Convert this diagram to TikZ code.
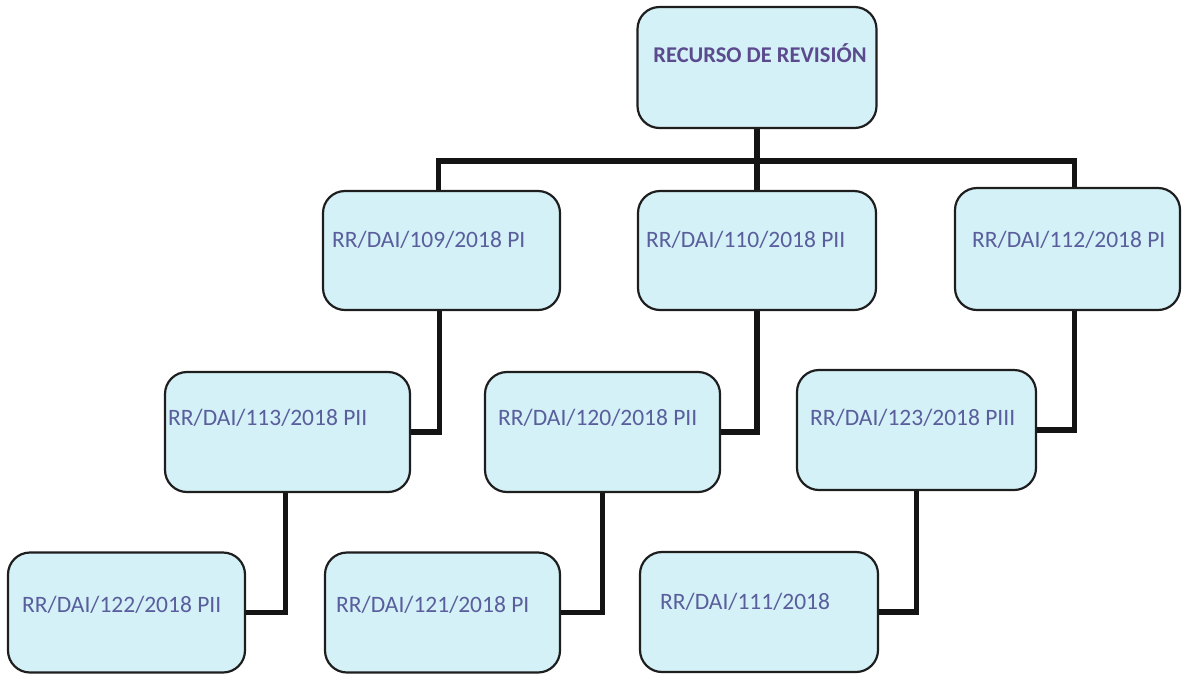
\documentclass[tikz,border=0pt]{standalone}
\usepackage{fontspec}
\setmainfont{Carlito}
\usetikzlibrary{backgrounds}
\definecolor{boxfill}{HTML}{D3F1F6}
\definecolor{boxline}{HTML}{1E1E1E}
\definecolor{txt}{HTML}{5A5E9C}
\definecolor{ttl}{HTML}{5C4A8E}
\begin{document}
\begin{tikzpicture}[x=1pt,y=-1pt,
  box/.style={draw=boxline,line width=2.2pt,fill=boxfill,rounded corners=22pt,inner sep=0pt,minimum width=#1},
  box/.default=237pt,
  lbl/.style={anchor=base west,inner sep=0pt,text=txt,font=\fontsize{23.5}{26}\selectfont},
  conn/.style={line width=5.6pt,draw=black!92}]
\useasboundingbox (0,0) rectangle (1188,673);
\coordinate (j) at (757,161);
% boxes
\node[box=239pt,minimum height=121pt] (top) at (757,67.5) {};
\node[box,minimum height=119pt] (b109) at (441.5,250.5) {};
\node[box=238pt,minimum height=119pt] (b110) at (757,250.5) {};
\node[box=225pt,minimum height=122pt] (b112) at (1067.5,249) {};
\node[box=245pt,minimum height=120pt] (b113) at (287.5,432) {};
\node[box=235pt,minimum height=120pt] (b120) at (602.5,432) {};
\node[box=239pt,minimum height=120pt] (b123) at (916.5,430) {};
\node[box,minimum height=120pt] (b122) at (126.5,612.5) {};
\node[box=235pt,minimum height=120pt] (b121) at (442.5,612.5) {};
\node[box=238pt,minimum height=120pt] (b111) at (759,612) {};
% connectors
\begin{scope}[on background layer]
\draw[conn] (top.south) -- (j);
\draw[conn] ([xshift=-3pt]b109.north) -- ([xshift=-3pt]b109.north |- j) -- ([xshift=7pt]b112.north |- j) -- ([xshift=7pt]b112.north);
\draw[conn] (j) -- (b110.north);
\draw[conn] ([xshift=-2pt]b109.south) |- (b113.east);
\draw[conn] (b110.south) |- (b120.east);
\draw[conn] ([xshift=7pt]b112.south) |- (b123.east);
\draw[conn] ([xshift=-2pt]b113.south) |- (b122.east);
\draw[conn] (b120.south) |- (b121.east);
\draw[conn] (b123.south) |- (b111.east);
\end{scope}
% labels
\node[anchor=base,inner sep=0pt,text=ttl,font=\fontsize{22.5}{26}\selectfont\bfseries] (ttop) at (760,62.5) {RECURSO DE REVISIÓN};
\node[lbl] (t109) at (332,247.5) {RR/DAI/109/2018 PI};
\node[lbl] (t110) at (646,247.5) {RR/DAI/110/2018 PII};
\node[lbl] (t112) at (972,247.5) {RR/DAI/112/2018 PI};
\node[lbl] (t113) at (168,425.5) {RR/DAI/113/2018 PII};
\node[lbl] (t120) at (498,425.5) {RR/DAI/120/2018 PII};
\node[lbl] (t123) at (810,425.5) {RR/DAI/123/2018 PIII};
\node[lbl] (t122) at (22,612.5) {RR/DAI/122/2018 PII};
\node[lbl] (t121) at (336,612.5) {RR/DAI/121/2018 PI};
\node[lbl] (t111) at (660,609.5) {RR/DAI/111/2018};
\end{tikzpicture}
\end{document}
